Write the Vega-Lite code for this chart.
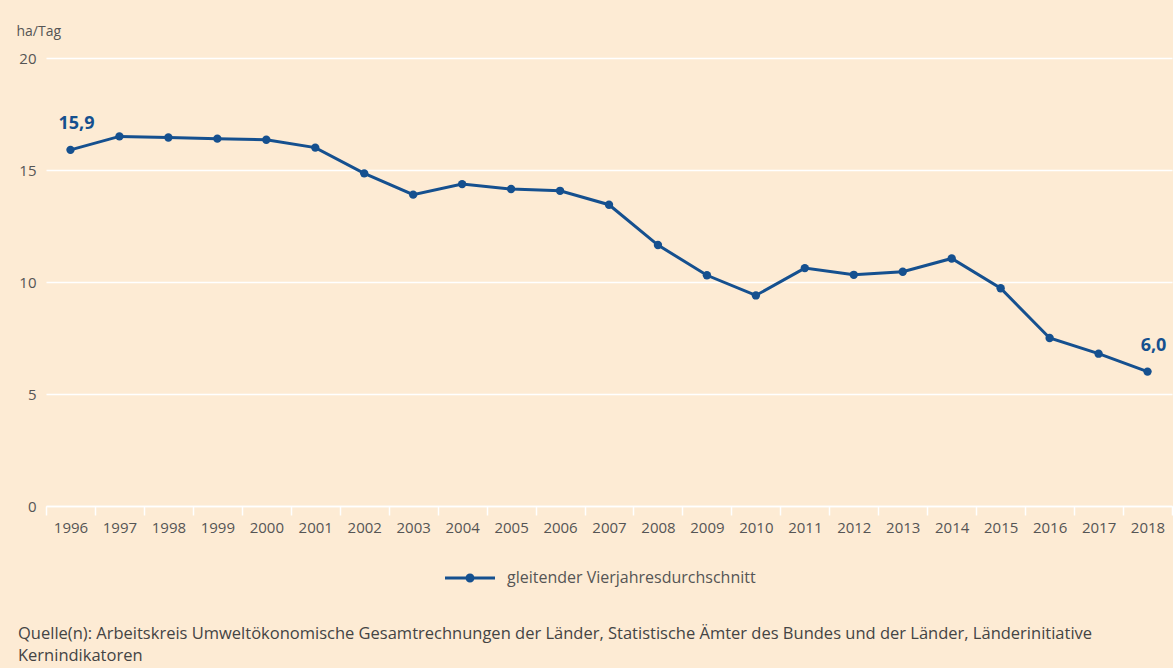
{
  "$schema": "https://vega.github.io/schema/vega-lite/v6.json",
  "autosize": {"type": "none"},
  "width": 1126,
  "height": 448,
  "padding": {"left": 46, "top": 58, "right": 1, "bottom": 162},
  "background": "#fdebd4",
  "config": {
    "view": {"stroke": null},
    "font": "Open Sans",
    "axis": {"labelFont": "Open Sans", "titleFont": "Open Sans", "labelColor": "#555555", "titleColor": "#555555"}
  },
  "title": {
    "text": ["Quelle(n): Arbeitskreis Umweltökonomische Gesamtrechnungen der Länder, Statistische Ämter des Bundes und der Länder, Länderinitiative", "Kernindikatoren"],
    "orient": "bottom",
    "anchor": "start",
    "frame": "group",
    "font": "Open Sans",
    "fontSize": 16.5,
    "fontWeight": "normal",
    "color": "#444444",
    "lineHeight": 22,
    "dx": -28,
    "offset": 40
  },
  "data": {
    "values": [
      {"year": "1996", "value": 15.9, "label": "15,9"},
      {"year": "1997", "value": 16.5},
      {"year": "1998", "value": 16.45},
      {"year": "1999", "value": 16.4},
      {"year": "2000", "value": 16.35},
      {"year": "2001", "value": 16.0},
      {"year": "2002", "value": 14.85},
      {"year": "2003", "value": 13.9},
      {"year": "2004", "value": 14.37},
      {"year": "2005", "value": 14.15},
      {"year": "2006", "value": 14.07},
      {"year": "2007", "value": 13.45},
      {"year": "2008", "value": 11.65},
      {"year": "2009", "value": 10.3},
      {"year": "2010", "value": 9.4},
      {"year": "2011", "value": 10.62},
      {"year": "2012", "value": 10.32},
      {"year": "2013", "value": 10.46},
      {"year": "2014", "value": 11.05},
      {"year": "2015", "value": 9.72},
      {"year": "2016", "value": 7.5},
      {"year": "2017", "value": 6.8},
      {"year": "2018", "value": 6.0, "label": "6,0"}
    ]
  },
  "encoding": {
    "x": {
      "field": "year",
      "type": "ordinal",
      "bandPosition": 0.5,
      "scale": {"type": "band", "paddingInner": 0, "paddingOuter": 0},
      "axis": {
        "title": null,
        "labelAngle": 0,
        "labelFontSize": 15,
        "labelPadding": 5,
        "domainColor": "#ffffff",
        "domainWidth": 1.5,
        "tickColor": "#ffffff",
        "tickWidth": 1.5,
        "tickSize": 9,
        "tickBand": "extent",
        "grid": false
      }
    },
    "y": {
      "field": "value",
      "type": "quantitative",
      "scale": {"domain": [0, 20], "nice": false},
      "axis": {
        "values": [0, 5, 10, 15, 20],
        "title": "ha/Tag",
        "titleAngle": 0,
        "titleAlign": "left",
        "titleBaseline": "middle",
        "titleX": -30,
        "titleY": -27,
        "titleFontSize": 14,
        "titleFontWeight": "normal",
        "labelFontSize": 15,
        "labelPadding": 10,
        "domain": false,
        "ticks": false,
        "grid": true,
        "gridColor": "#ffffff",
        "gridWidth": 1.5
      }
    }
  },
  "layer": [
    {
      "mark": {"type": "line", "strokeWidth": 3},
      "encoding": {
        "color": {
          "datum": "gleitender Vierjahresdurchschnitt",
          "scale": {"range": ["#15508f"]},
          "legend": {
            "title": null,
            "orient": "none",
            "legendX": 399,
            "legendY": 495,
            "padding": 0,
            "symbolType": "M-1,-0.06H1V0.06H-1Z M0.18,0 A0.18,0.18 0 1,1 -0.18,0 A0.18,0.18 0 1,1 0.18,0Z",
            "symbolSize": 2500,
            "symbolFillColor": "#15508f",
            "symbolStrokeColor": "#15508f",
            "symbolStrokeWidth": 0,
            "labelFontSize": 16,
            "labelColor": "#555555",
            "labelFont": "Open Sans",
            "labelOffset": 12,
            "labelLimit": 0
          }
        }
      }
    },
    {
      "mark": {"type": "circle", "size": 70, "opacity": 1, "color": "#15508f"},
      "encoding": {}
    },
    {
      "transform": [{"filter": "datum.label != null"}],
      "mark": {"type": "text", "fontWeight": "bold", "fontSize": 18, "color": "#15508f", "dy": -26, "dx": 6, "font": "Open Sans"},
      "encoding": {"text": {"field": "label"}}
    }
  ]
}
